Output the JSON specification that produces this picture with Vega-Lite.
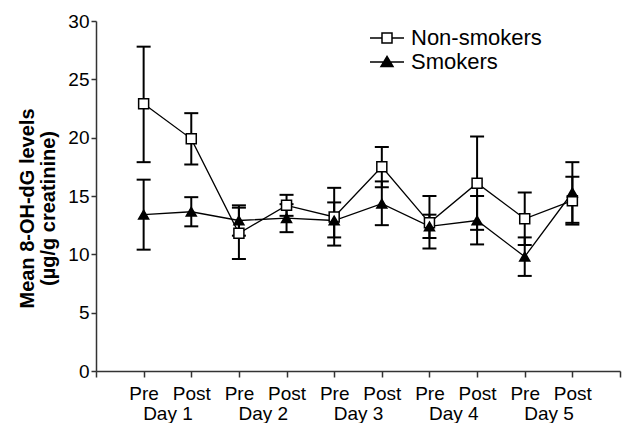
{
  "$schema": "https://vega.github.io/schema/vega-lite/v6.json",
  "width": 524,
  "height": 350,
  "autosize": "none",
  "padding": {"left": 96, "top": 21, "right": 2, "bottom": 52},
  "config": {
    "font": "Liberation Sans",
    "view": {"stroke": null},
    "axis": {
      "grid": false,
      "domainColor": "#333333",
      "tickColor": "#333333",
      "domainWidth": 1.5,
      "tickWidth": 1.5,
      "labelColor": "black",
      "labelFontSize": 19,
      "labelFont": "Liberation Sans"
    },
    "legend": {
      "title": null,
      "orient": "none",
      "legendX": 280,
      "legendY": 6,
      "padding": 0,
      "symbolSize": 400,
      "symbolStrokeWidth": 1.5,
      "symbolOpacity": 1,
      "labelFont": "Liberation Sans",
      "labelFontSize": 22,
      "labelColor": "black",
      "labelOffset": 13,
      "rowPadding": 2
    }
  },
  "data": {
    "values": [
      {"group": "Non-smokers", "x": 1, "mean": 22.9, "lo": 17.9, "hi": 27.8},
      {"group": "Non-smokers", "x": 2, "mean": 19.9, "lo": 17.7, "hi": 22.1},
      {"group": "Non-smokers", "x": 3, "mean": 11.8, "lo": 9.6, "hi": 14.0},
      {"group": "Non-smokers", "x": 4, "mean": 14.2, "lo": 13.3, "hi": 15.1},
      {"group": "Non-smokers", "x": 5, "mean": 13.2, "lo": 10.75, "hi": 15.7},
      {"group": "Non-smokers", "x": 6, "mean": 17.5, "lo": 15.75, "hi": 19.2},
      {"group": "Non-smokers", "x": 7, "mean": 12.7, "lo": 10.5, "hi": 15.0},
      {"group": "Non-smokers", "x": 8, "mean": 16.1, "lo": 12.1, "hi": 20.1},
      {"group": "Non-smokers", "x": 9, "mean": 13.05, "lo": 10.8, "hi": 15.3},
      {"group": "Non-smokers", "x": 10, "mean": 14.6, "lo": 12.55, "hi": 16.65},
      {"group": "Smokers", "x": 1, "mean": 13.4, "lo": 10.4, "hi": 16.4},
      {"group": "Smokers", "x": 2, "mean": 13.65, "lo": 12.4, "hi": 14.9},
      {"group": "Smokers", "x": 3, "mean": 12.9, "lo": 11.6, "hi": 14.2},
      {"group": "Smokers", "x": 4, "mean": 13.1, "lo": 11.9, "hi": 14.3},
      {"group": "Smokers", "x": 5, "mean": 12.9, "lo": 11.45, "hi": 14.45},
      {"group": "Smokers", "x": 6, "mean": 14.35, "lo": 12.5, "hi": 16.25},
      {"group": "Smokers", "x": 7, "mean": 12.4, "lo": 11.4, "hi": 13.4},
      {"group": "Smokers", "x": 8, "mean": 12.9, "lo": 10.85, "hi": 15.0},
      {"group": "Smokers", "x": 9, "mean": 9.8, "lo": 8.15, "hi": 11.45},
      {"group": "Smokers", "x": 10, "mean": 15.3, "lo": 12.7, "hi": 17.9}
    ]
  },
  "resolve": {
    "axis": {"x": "independent"},
    "scale": {"shape": "independent", "fill": "independent"},
    "legend": {"shape": "independent", "fill": "independent"}
  },
  "layer": [
    {
      "mark": {"type": "rule", "color": "black", "strokeWidth": 2},
      "encoding": {
        "x": {
          "field": "x", "type": "quantitative",
          "scale": {"domain": [0, 11], "nice": false, "zero": false},
          "axis": {
            "orient": "bottom",
            "title": null,
            "values": [0, 1, 2, 3, 4, 5, 6, 7, 8, 9, 10, 11],
            "labelExpr": "datum.value == 0 || datum.value == 11 ? '' : (datum.value % 2 == 1 ? 'Pre' : 'Post')",
            "tickSize": 6,
            "labelPadding": 7,
            "labelFlush": false,
            "labelOverlap": false
          }
        },
        "y": {
          "field": "lo", "type": "quantitative",
          "scale": {"domain": [0, 30], "nice": false},
          "axis": {
            "values": [0, 5, 10, 15, 20, 25, 30],
            "title": ["Mean 8-OH-dG levels", "(µg/g creatinine)"],
            "titleFont": "Liberation Sans",
            "titleFontSize": 20,
            "titleFontWeight": "bold",
            "titleColor": "black",
            "titleLineHeight": 21,
            "titlePadding": 9,
            "titleY": 187,
            "tickSize": 5,
            "labelPadding": 2
          }
        },
        "y2": {"field": "hi"}
      }
    },
    {
      "mark": {"type": "tick", "orient": "horizontal", "color": "black", "size": 14, "thickness": 2, "opacity": 1},
      "encoding": {
        "x": {"field": "x", "type": "quantitative", "axis": null},
        "y": {"field": "hi", "type": "quantitative"}
      }
    },
    {
      "mark": {"type": "tick", "orient": "horizontal", "color": "black", "size": 14, "thickness": 2, "opacity": 1},
      "encoding": {
        "x": {
          "field": "x", "type": "quantitative",
          "axis": {
            "orient": "bottom",
            "title": null,
            "values": [1.5, 3.5, 5.5, 7.5, 9.5],
            "labelExpr": "'Day ' + ((datum.value + 0.5) / 2)",
            "ticks": false,
            "domain": false,
            "labelPadding": 33,
            "labelFlush": false,
            "labelOverlap": false
          }
        },
        "y": {"field": "lo", "type": "quantitative"}
      }
    },
    {
      "mark": {"type": "line", "color": "black", "strokeWidth": 1.3},
      "encoding": {
        "x": {"field": "x", "type": "quantitative", "axis": null},
        "y": {"field": "mean", "type": "quantitative"},
        "detail": {"field": "group"}
      }
    },
    {
      "mark": {"type": "point", "filled": true, "stroke": "black", "strokeWidth": 1.5, "size": 100, "opacity": 1},
      "encoding": {
        "x": {"field": "x", "type": "quantitative", "axis": null},
        "y": {"field": "mean", "type": "quantitative"},
        "shape": {
          "field": "group", "type": "nominal",
          "scale": {"domain": ["Non-smokers", "Smokers"], "range": ["square", "triangle-up"]},
          "legend": null
        },
        "fill": {
          "field": "group", "type": "nominal",
          "scale": {"domain": ["Non-smokers", "Smokers"], "range": ["white", "black"]},
          "legend": null
        }
      }
    },
    {
      "transform": [{"filter": "false"}],
      "mark": {"type": "point", "filled": false, "stroke": "black", "strokeWidth": 1.5, "opacity": 1},
      "encoding": {
        "x": {"field": "x", "type": "quantitative", "axis": null},
        "y": {"field": "mean", "type": "quantitative"},
        "shape": {
          "field": "group", "type": "nominal",
          "scale": {"domain": ["Non-smokers", "Smokers"], "range": ["M-1.7,0H-0.5M0.5,0H1.7M-0.5,-0.5H0.5V0.5H-0.5Z", "M-1.7,0H1.7M0,-0.55L0.6,0.45H-0.6Z"]},
          "legend": {}
        },
        "fill": {
          "field": "group", "type": "nominal",
          "scale": {"domain": ["Non-smokers", "Smokers"], "range": ["white", "black"]},
          "legend": {}
        }
      }
    }
  ]
}
